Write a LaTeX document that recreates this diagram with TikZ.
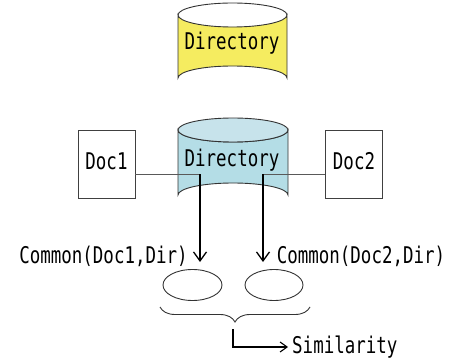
\documentclass[tikz,border=0pt]{standalone}
\usepackage{fontspec}
\newfontfamily\gothic[FakeStretch=0.76]{DejaVu Sans Mono}
\usetikzlibrary{arrows.meta,decorations.pathreplacing,shapes.geometric}
\definecolor{dbYellow}{HTML}{F5EC60}
\definecolor{dbBlue}{HTML}{B4DDE6}
\definecolor{dbBlueTop}{HTML}{C7E3EB}
\definecolor{edge}{HTML}{333333}
\tikzset{
  lbl/.style={font=\gothic\fontsize{23}{23}\selectfont, inner sep=0pt, text=black},
  docbox/.style={draw=black!75, line width=0.9pt, fill=white, minimum width=57pt, minimum height=68pt, inner sep=0pt},
  cyl/.style={draw=edge, line width=0.9pt},
  hline/.style={draw=black!65, line width=1pt},
  vline/.style={draw=black, line width=1.4pt},
  arr/.style={-{Straight Barb[length=9pt,width=13pt,line width=1.3pt]}},
  arrs/.style={-{Straight Barb[length=7pt,width=10pt,line width=1.1pt]}},
}
\begin{document}
\begin{tikzpicture}[x=1pt,y=-1pt]
\useasboundingbox (0,0) rectangle (452,358);
% yellow cylinder
\filldraw[cyl, fill=dbYellow] (178,15) -- (178,78) arc[start angle=180,end angle=360,x radius=54.5,y radius=12] -- (287,15) arc[start angle=0,end angle=180,x radius=54.5,y radius=12] -- cycle;
\draw[cyl] (178,15) arc[start angle=180,end angle=360,x radius=54.5,y radius=12];
\node[lbl, anchor=base] (dirY) at (232,50) {Directory};
% blue cylinder
\filldraw[cyl, fill=dbBlue] (178,130) -- (178,195) arc[start angle=180,end angle=360,x radius=55,y radius=12] -- (288,130) arc[start angle=0,end angle=180,x radius=55,y radius=12] -- cycle;
\filldraw[cyl, fill=dbBlueTop] (233,130) ellipse[x radius=55,y radius=12];
\node[lbl, anchor=base] (dirB) at (232,167) {Directory};
% documents
\node[docbox] (doc1) at (106.5,164) {};
\node[lbl, anchor=base] (doc1t) at (106.5,170) {Doc1};
\node[docbox] (doc2) at (354,164) {};
\node[lbl, anchor=base] (doc2t) at (354,170) {Doc2};
% connectors
\coordinate (k1) at (200,175);
\coordinate (t1) at (200,262);
\coordinate (k2) at (263,175);
\coordinate (t2) at (263,262);
\draw[hline] (doc1.east |- k1) -- (k1);
\draw[vline, arr] ([yshift=0.5pt]k1) -- (t1);
\draw[hline] (doc2.west |- k2) -- (k2);
\draw[vline, arr] ([yshift=0.5pt]k2) -- (t2);
% labels
\node[lbl, anchor=base] (c1) at (103.5,263) {Common(Doc1,Dir)};
\node[lbl, anchor=base] (c2) at (361,263) {Common(Doc2,Dir)};
% ellipses
\node[draw=black!80, line width=0.9pt, ellipse, minimum width=59pt, minimum height=31pt, inner sep=0pt] (e1) at (192.5,285) {};
\node[draw=black!80, line width=0.9pt, ellipse, minimum width=58pt, minimum height=31pt, inner sep=0pt] (e2) at (274,285) {};
% brace
\draw[black!80, line width=0.9pt, decorate, decoration={brace, amplitude=15pt}] (310,307) -- (160,307);
\coordinate (bt) at (233,329);
\coordinate (bk) at (233,347);
\node[lbl, anchor=base west] (sim) at (292,353) {Similarity};
\draw[black, line width=1.1pt, arrs] (bt) -- (bk) -- ([xshift=-4pt]sim.west |- bk);
\end{tikzpicture}
\end{document}
